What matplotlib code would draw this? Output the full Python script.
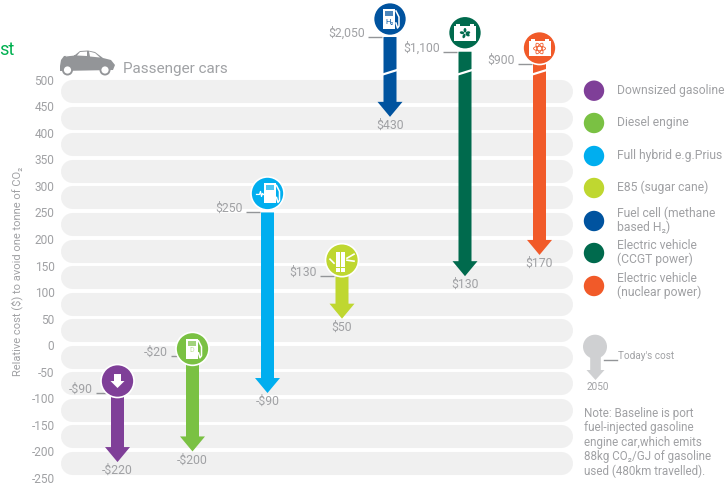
#! /usr/bin/env python

import numpy as np
from matplotlib import pyplot as plt
from matplotlib.patches import Circle, Polygon, Rectangle, Ellipse

# cost per tonne of CO2, today and in 2050
names = ['Downsized gasoline', 'Diesel engine', 'Full hybrid e.g.Prius', 'E85 (sugar cane)',
         'Fuel cell (methane\nbased H\u2082)', 'Electric vehicle\n(CCGT power)',
         'Electric vehicle\n(nuclear power)']
today = [-90, -20, 250, 130, 2050, 1100, 900]
y2050 = [-220, -200, -90, 50, 430, 130, 170]
today_labels = ['-$90', '-$20', '$250', '$130', '$2,050', '$1,100', '$900']
y2050_labels = ['-$220', '-$200', '-$90', '$50', '$430', '$130', '$170']
yticks = [500, 450, 400, 350, 300, 250, 200, 150, 100, 50, 0, -50, -100, -150, -200, -250]

colors = ['#7f3f98', '#7ac143', '#00aeef', '#bfd730', '#00539f', '#006a4d', '#f15a29']
xpos = [117.5, 192.5, 267.5, 342, 390, 465, 539.5]
lift = [12, 7, 19, 16, 18, 19, 16]    # how far each badge sits above its leader line
GREY = '#939598'
TXT = '#a0a1a4'
FONT = ['Roboto', 'DejaVu Sans']

W, H = 727, 487
plt.rcParams['font.family'] = FONT

# axis is linear up to 500, then squeezed for the off-scale values
kv = [-1000, 500, 900, 1100, 2050, 3000]
kp = [-1000, 500, 529.5, 552.6, 580.3, 650]
forward = lambda v: np.interp(v, kv, kp)
inverse = lambda p: np.interp(p, kp, kv)

fig = plt.figure(figsize=(W/100, H/100), dpi=100)
ax = fig.add_axes([60/W, (H-478)/H, (572-60)/W, 478/H])
ax.set_yscale('function', functions=(forward, inverse))
ax.set_xlim(60, 572)
ax.set_ylim(-250, 3000)
ax.set_yticks(yticks)
ax.set_yticklabels([str(t) for t in yticks], color=TXT, fontsize=8.6)
ax.minorticks_off()
ax.set_xticks([])
ax.tick_params(axis='y', length=0, pad=4, which='both')
for s in ax.spines.values():
    s.set_visible(False)
ax.patch.set_visible(False)

for t in yticks[:-1]:
    ax.plot([71.5, 560.5], [t-21.7, t-21.7], color='#f0f0f0', lw=16.6,
            solid_capstyle='round', clip_on=False, zorder=1)

# overlay in pixel coordinates for the arrows, badges and side notes
ov = fig.add_axes([0, 0, 1, 1])
ov.set_xlim(0, W)
ov.set_ylim(H, 0)
ov.axis('off')
ov.patch.set_visible(False)


def to_px(x, v):
    dx, dy = ax.transData.transform((x, v))
    return dx, H-dy


def arrow(x, y0, y1, color, sw=6.5, hw=12.5, hl=15, z=3):
    pts = [(x-sw, y0), (x+sw, y0), (x+sw, y1-hl), (x+hw, y1-hl), (x, y1),
           (x-hw, y1-hl), (x-sw, y1-hl)]
    ov.add_patch(Polygon(pts, closed=True, fc=color, ec='none', zorder=z))


def pump(cx, cy, bg, hybrid=False, h2=False, diesel=False):
    ov.add_patch(Rectangle((cx-6, cy-10), 12, 20, fc='white', ec='none', zorder=6))
    ov.add_patch(Rectangle((cx-4, cy-8), 8, 5, fc=bg, ec='none', alpha=.7, zorder=7))
    ov.plot([cx+7, cx+10, cx+10, cx+8.5, cx+7], [cy-8, cy-2, cy+7, cy+9, cy+4],
            color='white', lw=1.1, zorder=6)
    if hybrid:
        ov.plot([cx-13, cx-10, cx-9, cx-8, cx-7, cx-6], [cy+1, cy+1, cy-2, cy+3, cy, cy+1],
                color='white', lw=.9, zorder=6)
    if h2:
        ov.text(cx, cy+3, 'H\u2082', color=bg, fontsize=5.5, ha='center', va='center', zorder=7)
    if diesel:
        ov.text(cx, cy+2, 'D', color='#bfe09a', fontsize=5, ha='center', va='center', zorder=7)


def icon(i, cx, cy, bg):
    if i == 0:
        arrow(cx, cy-7, cy+7, 'white', sw=3.5, hw=7, hl=7, z=6)
    elif i == 1:
        pump(cx-1, cy, bg, diesel=True)
    elif i == 2:
        pump(cx+2, cy, bg, hybrid=True)
    elif i == 3:
        # two cane stalks with leaves
        for dx in (-6, -1):
            ov.add_patch(Rectangle((cx+dx, cy-8), 4.2, 15, fc='white', ec='none', zorder=6))
            ov.add_patch(Rectangle((cx+dx, cy+8), 4.2, 4, fc='white', ec='none', zorder=6))
        ov.plot([cx+5, cx+12], [cy-2, cy-6], color='white', lw=1.2, zorder=6)
        ov.plot([cx+5, cx+12], [cy, cy+1], color='white', lw=1.2, zorder=6)
        ov.plot([cx-12, cx-8], [cy-1, cy+3], color='white', lw=1.2, zorder=6)
    else:
        if i == 4:
            pump(cx-1, cy, bg, h2=True)
        else:
            # battery outline with a fan or an atom on it
            ov.add_patch(Rectangle((cx-11, cy-7), 22, 15, fc='white', ec='none', zorder=6))
            ov.add_patch(Rectangle((cx-9, cy-9), 4, 2, fc='white', ec='none', zorder=6))
            ov.add_patch(Rectangle((cx+5, cy-9), 4, 2, fc='white', ec='none', zorder=6))
            if i == 5:
                for a in np.radians([30, 110, 190, 270, 350]):
                    ov.add_patch(Ellipse((cx+3*np.cos(a), cy+.5+3*np.sin(a)), 4.5, 2.8,
                                         angle=np.degrees(a), fc=bg, ec='none', zorder=7))
            else:
                for a in [0, 60, 120]:
                    ov.add_patch(Ellipse((cx, cy+.5), 12, 4.5, angle=a, fc='none', ec=bg,
                                         lw=.6, zorder=7))


for i in range(len(today)):
    x0, y0 = to_px(xpos[i], today[i])
    x1, y1 = to_px(xpos[i], y2050[i])
    arrow(x0, y0, y1, colors[i])
    # break mark on stems that start off the scale
    if today[i] > 500:
        _, yb = to_px(xpos[i], 690)
        ov.plot([x0-8, x0+8], [yb+2.5, yb-2.5], color='white', lw=1.6, zorder=4)
    cy = y0-lift[i]
    ov.add_patch(Circle((x0, cy), 16.5, fc=colors[i], ec='white', lw=1.2, zorder=5))
    icon(i, x0, cy, colors[i])
    ov.plot([x0-22, x0-8], [y0, y0], color=GREY, lw=1, zorder=4, solid_capstyle='butt')
    ov.text(x0-25, y0-4, today_labels[i], color=TXT, fontsize=8.8, ha='right', va='center')
    ov.text(x0, y1+8.5, y2050_labels[i], color=TXT, fontsize=8.8, ha='center', va='center')

# y label and header
ov.text(17, 271, 'Relative cost ($) to avoid one tonne of CO\u2082', color=TXT, fontsize=8,
        rotation=90, ha='center', va='center')
ov.text(14.5, 50, 'st', color='#00b050', fontsize=13, ha='right', va='center')
ov.text(123, 68.5, 'Passenger cars', color='#a0a2a5', fontsize=11, ha='left', va='center')

# car
body = [(60, 66), (61, 60), (64, 56), (75, 55), (80, 51), (88, 50.5), (95, 52), (103, 58),
        (111, 60), (115, 65), (113, 70), (60, 71)]
ov.add_patch(Polygon(body, closed=True, fc=GREY, ec='none'))
ov.add_patch(Polygon([(77, 55.5), (80, 52), (87, 51.5), (87, 56)], closed=True, fc='white', ec='none'))
ov.add_patch(Polygon([(89, 51.5), (95, 53), (100, 57.5), (90, 56.5)], closed=True, fc='white', ec='none'))
ov.add_patch(Polygon([(65, 55.5), (74, 54), (74, 55.5), (66, 56.5)], closed=True, fc='white', ec='none'))
for wx in (67.5, 105):
    ov.add_patch(Circle((wx, 70), 5.5, fc=GREY, ec='none'))
    ov.add_patch(Circle((wx, 70), 3.6, fc='white', ec='none'))

# legend
leg_y = [90.7, 123, 156, 188, 221, 253, 286]
for name, c, ly in zip(names, colors, leg_y):
    ov.add_patch(Circle((594, ly), 10.2, fc=c, ec='none'))
    ov.text(617, ly-.5, name, color=TXT, fontsize=8.7, ha='left', va='center', linespacing=1.0)

# key for the arrows
arrow(595.5, 355, 380, '#cfd0d2', sw=5.3, hw=9, hl=10)
ov.add_patch(Circle((595, 346.7), 12, fc='#cfd0d2', ec='none', zorder=4))
ov.plot([604, 617], [360, 360], color=GREY, lw=1)
ov.text(618, 356, "Today's cost", color=TXT, fontsize=7.2, ha='left', va='center')
ov.text(598, 386.5, '2050', color=TXT, fontsize=7.2, ha='center', va='center')

note = ('Note: Baseline is port\nfuel-injected gasoline\nengine car,which emits\n'
        '88kg CO\u2082/GJ of gasoline\nused (480km travelled).')
ov.text(584, 442.5, note, color=TXT, fontsize=8.4, ha='left', va='center', linespacing=1.16)

plt.savefig('out.png', dpi=100)
